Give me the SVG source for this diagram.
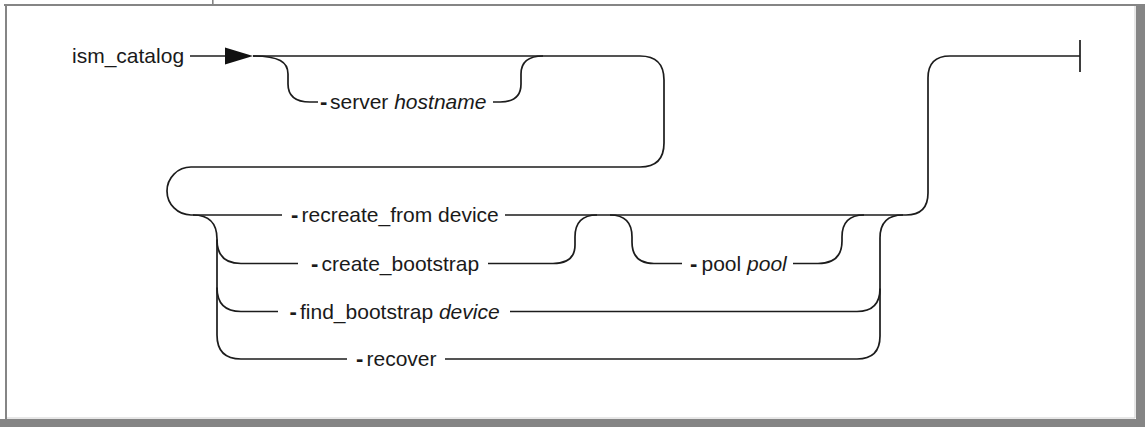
<svg xmlns="http://www.w3.org/2000/svg" width="1145" height="427" viewBox="0 0 1145 427">
<style>
.t{font-family:"Liberation Sans",Arial,Helvetica,sans-serif;font-size:21px;fill:#1a1a1a}
.d{font-weight:bold;font-size:22px}
.i{font-style:italic}
.c{fill:none;stroke:#1c1c1c;stroke-width:1.7}
.f{fill:#858585}
</style>
<g id="frame">
<rect class="f" x="4" y="4" width="1141" height="2"/>
<rect class="f" x="5" y="4" width="2" height="415"/>
<rect class="f" x="1136" y="4" width="9" height="423"/>
<rect class="f" x="0" y="419" width="1145" height="8"/>
<rect x="1134.5" y="6" width="1" height="412" fill="#cfcfcf"/>
<rect x="7" y="417.5" width="1128" height="1" fill="#cfcfcf"/>
<rect class="f" x="212" y="0" width="1.6" height="4"/>
</g>
<g id="connectors">
<path class="c" d="M190 56 H226"/>
<polygon points="225,47.5 253,56 225,64.5" fill="#111"/>
<path class="c" d="M253 56 H640 Q664 56 664 80 V143 Q664 167 640 167 H191 A24 24 0 0 0 191 215 H282"/>
<path class="c" d="M253 56 C279 56 288 62 288 74 V84 C288 96 296 102 310 102 H318"/>
<path class="c" d="M493 102 H500 C514 102 521 96 521 84 V74 C521 62 528 56 543 56"/>
<path class="c" d="M193 215 Q217 215 217 239 V335 Q217 359 241 359 H347"/>
<path class="c" d="M217 239.5 Q217 263.5 241 263.5 H298"/>
<path class="c" d="M217 287.5 Q217 311.5 241 311.5 H278"/>
<path class="c" d="M505 215 H906 Q928 215 928 193 V78 Q928 56 950 56 H1080"/>
<path class="c" d="M1080 40 V72"/>
<path class="c" d="M488 263.5 H553 Q575 263.5 575 245 V237 Q575 215 597 215"/>
<path class="c" d="M610 215 Q632 215 632 237 V242 Q632 263.5 654 263.5 H682"/>
<path class="c" d="M793 263.5 H818 Q842 263.5 842 241 V237 Q842 215 864 215"/>
<path class="c" d="M510 311.5 H857 Q880 311.5 880 288.5"/>
<path class="c" d="M445 359 H857 Q880 359 880 336 V238 Q880 215 903 215"/>
</g>
<g id="node-ism_catalog"><text class="t" x="72" y="63">ism_catalog</text></g>
<g id="node-server"><text class="t" y="109"><tspan class="d" x="320">-</tspan><tspan x="330">server </tspan><tspan class="i">hostname</tspan></text></g>
<g id="node-recreate"><text class="t" y="222"><tspan class="d" x="291">-</tspan><tspan x="301.5">recreate_from device</tspan></text></g>
<g id="node-create"><text class="t" y="270.5"><tspan class="d" x="311">-</tspan><tspan x="321.5">create_bootstrap</tspan></text></g>
<g id="node-pool"><text class="t" y="270.5"><tspan class="d" x="690">-</tspan><tspan x="701.5">pool </tspan><tspan class="i">pool</tspan></text></g>
<g id="node-find"><text class="t" y="318.5"><tspan class="d" x="289.5">-</tspan><tspan x="300">find_bootstrap </tspan><tspan class="i">device</tspan></text></g>
<g id="node-recover"><text class="t" y="366"><tspan class="d" x="356">-</tspan><tspan x="366.5">recover</tspan></text></g>
</svg>
